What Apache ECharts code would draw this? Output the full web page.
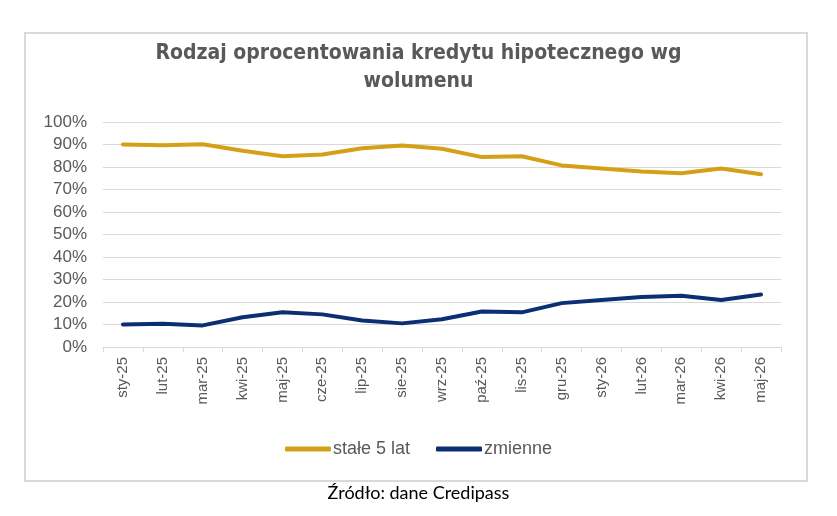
<!DOCTYPE html>
<html><head><meta charset="utf-8">
<script src="https://cdn.jsdelivr.net/npm/echarts@6/dist/echarts.min.js"></script>
<style>html,body{margin:0;padding:0;background:#fff}#c{width:837px;height:516px}</style>
</head><body><div id="c"></div>
<script>
const categories = ['sty-25','lut-25','mar-25','kwi-25','maj-25','cze-25','lip-25','sie-25','wrz-25','paź-25','lis-25','gru-25','sty-26','lut-26','mar-26','kwi-26','maj-26'];
const stale5lat = [90, 89.7, 90.1, 87.2, 84.8, 85.6, 88.3, 89.6, 88.1, 84.4, 84.8, 80.7, 79.3, 78.0, 77.2, 79.3, 76.8];
const zmienne = [10.0, 10.3, 9.6, 13.2, 15.4, 14.5, 11.8, 10.5, 12.3, 15.8, 15.4, 19.5, 20.9, 22.2, 22.8, 20.9, 23.3];
const yTicks = [0, 10, 20, 30, 40, 50, 60, 70, 80, 90, 100];

const chart = echarts.init(document.getElementById('c'), null, {renderer: 'canvas'});
chart.setOption({
  animation: false,
  graphic: [
    {type: 'rect', shape: {x: 25, y: 33, width: 782, height: 448}, style: {fill: 'none', stroke: '#d9d9d9', lineWidth: 2}, silent: true},
    {type: 'text', left: 'center', top: 484, style: {text: 'Źródło: dane Credipass', font: '18px Lato', fill: '#000'}}
  ],
  title: {
    text: 'Rodzaj oprocentowania kredytu hipotecznego wg\nwolumenu',
    left: 'center', top: 35,
    textStyle: {fontFamily: "'DejaVu Sans Condensed', 'DejaVu Sans', sans-serif", fontWeight: 'bold', fontSize: 21, color: '#595959', lineHeight: 28}
  },
  legend: {
    bottom: 53, left: 'center',
    itemWidth: 46, itemHeight: 5, itemGap: 26,
    icon: 'roundRect',
    textStyle: {fontFamily: 'Liberation Sans', fontSize: 18, color: '#595959', padding: [0,0,0,-3]},
    data: ['stałe 5 lat', 'zmienne']
  },
  grid: {left: 103, right: 56, top: 122, bottom: 169},
  xAxis: {
    type: 'category', data: categories, boundaryGap: true,
    axisLine: {lineStyle: {color: '#d9d9d9'}},
    axisTick: {show: true, length: 5, lineStyle: {color: '#d9d9d9'}},
    axisLabel: {rotate: 90, fontFamily: 'Liberation Sans', fontSize: 15, color: '#595959', margin: 10}
  },
  yAxis: {
    type: 'value', min: 0, max: 100, interval: 10,
    axisLabel: {formatter: v => yTicks.includes(v) ? v + '%' : '', fontFamily: 'Liberation Sans', fontSize: 17, color: '#595959', margin: 16},
    axisLine: {show: false}, axisTick: {show: false},
    splitLine: {lineStyle: {color: '#d9d9d9', width: 1}}
  },
  series: [
    {name: 'stałe 5 lat', type: 'line', data: stale5lat, showSymbol: false, symbol: 'none',
     lineStyle: {color: '#D4A017', width: 4, cap: 'round', join: 'round'}, itemStyle: {color: '#D4A017'}},
    {name: 'zmienne', type: 'line', data: zmienne, showSymbol: false, symbol: 'none',
     lineStyle: {color: '#0B2E74', width: 4, cap: 'round', join: 'round'}, itemStyle: {color: '#0B2E74'}}
  ]
});
</script></body></html>
